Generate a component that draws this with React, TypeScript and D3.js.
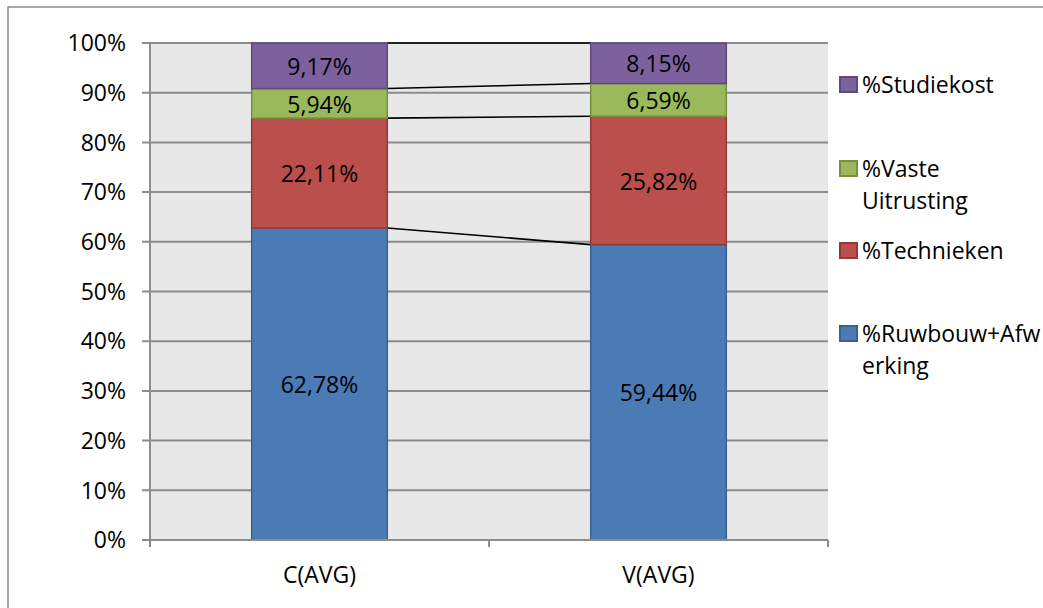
import React from "react";
import * as d3 from "d3";

// Stacked 100% columns: cost share per group
const categories = ["C(AVG)", "V(AVG)"];
const seriesNames = ["%Ruwbouw+Afwerking", "%Technieken", "%Vaste Uitrusting", "%Studiekost"];
const ruwbouw = [62.78, 59.44];
const technieken = [22.11, 25.82];
const vasteUitrusting = [5.94, 6.59];
const studiekost = [9.17, 8.15];
const yTicks = [0, 10, 20, 30, 40, 50, 60, 70, 80, 90, 100];

// legend entries, wrapped the way they are shown
const legendLines = [
  ["%Studiekost"],
  ["%Vaste", "Uitrusting"],
  ["%Technieken"],
  ["%Ruwbouw+Afw", "erking"],
];

const fills = ["#4a7bb5", "#ba4f4c", "#99b95a", "#7c619e"];
const strokes = ["#3b6190", "#8e3b39", "#76903f", "#5e4979"];

const W = 1043;
const H = 608;
const FONT = "'Open Sans', sans-serif";
const FS = 23;

export default function App() {
  const plot = { left: 150, right: 828, top: 43, bottom: 540 };
  const band = d3.scaleBand<string>().domain(categories).range([plot.left, plot.right]);
  const y = d3.scaleLinear().domain([0, 100]).range([plot.bottom, plot.top]);

  const rows = categories.map((c, i) => ({
    cat: c,
    s0: ruwbouw[i],
    s1: technieken[i],
    s2: vasteUitrusting[i],
    s3: studiekost[i],
  }));
  const stack = d3.stack<any>().keys(["s0", "s1", "s2", "s3"]);
  const layers = stack(rows);

  // gap width 150% of the column width
  const barW = band.bandwidth() / 2.5;
  const barX = (c: string) => band(c)! + band.bandwidth() / 2 - barW / 2;

  const legendRows = [
    { idx: 3, base: 93 },
    { idx: 2, base: 177 },
    { idx: 1, base: 259 },
    { idx: 0, base: 342 },
  ];

  return (
    <svg
      width={W}
      height={H}
      style={{ position: "absolute", left: 0, top: 0, background: "#fff" }}
      fontFamily={FONT}
    >
      {/* chart frame */}
      <rect x={8} y={7} width={W + 20} height={H + 20} fill="#fff" stroke="#8a8a8a" strokeWidth={1.5} />

      {/* plot area */}
      <rect x={plot.left} y={plot.top} width={plot.right - plot.left} height={plot.bottom - plot.top} fill="#e8e8e8" />

      {/* gridlines and y ticks */}
      {yTicks.map((t) => (
        <g key={t}>
          <line x1={plot.left - 8} x2={plot.right} y1={y(t)} y2={y(t)} stroke="#8c8c8c" strokeWidth={2} />
          <text x={126} y={y(t)} dy="0.36em" textAnchor="end" fontSize={FS} fill="#000">
            {t}%
          </text>
        </g>
      ))}

      {/* axes */}
      <line x1={plot.left} x2={plot.left} y1={plot.top} y2={plot.bottom} stroke="#8c8c8c" strokeWidth={2} />
      {[plot.left, ...categories.map((c) => band(c)! + band.bandwidth())].map((px, i) => (
        <line key={i} x1={px} x2={px} y1={plot.bottom} y2={plot.bottom + 7} stroke="#8c8c8c" strokeWidth={2} />
      ))}

      {/* series lines between columns */}
      {layers.map((layer, li) => {
        const a = layer[0];
        const b = layer[1];
        return (
          <line
            key={"sl" + li}
            x1={barX(categories[0]) + barW}
            x2={barX(categories[1])}
            y1={y(a[1])}
            y2={y(b[1])}
            stroke="#000"
            strokeWidth={1.6}
          />
        );
      })}

      {/* stacked columns */}
      {layers.map((layer, li) =>
        layer.map((d, ci) => {
          const cat = categories[ci];
          const y0 = y(d[0]);
          const y1 = y(d[1]);
          return (
            <g key={li + "-" + ci}>
              <rect
                x={barX(cat)}
                y={y1}
                width={barW}
                height={y0 - y1}
                fill={fills[li]}
                stroke={strokes[li]}
                strokeWidth={1.5}
              />
              <text
                x={barX(cat) + barW / 2}
                y={(y0 + y1) / 2}
                dy="0.4em"
                textAnchor="middle"
                fontSize={FS}
                fill="#000"
              >
                {(d[1] - d[0]).toFixed(2).replace(".", ",")}%
              </text>
            </g>
          );
        })
      )}

      {/* x axis line over the column bases */}
      <line x1={plot.left} x2={plot.right} y1={plot.bottom} y2={plot.bottom} stroke="#8c8c8c" strokeWidth={2} />

      {/* category labels */}
      {categories.map((c) => (
        <text key={c} x={band(c)! + band.bandwidth() / 2} y={583} textAnchor="middle" fontSize={FS} fill="#000">
          {c}
        </text>
      ))}

      {/* legend */}
      {legendRows.map(({ idx, base }) => (
        <g key={idx}>
          <rect x={840} y={base - 16} width={17} height={15} fill={fills[idx]} stroke={strokes[idx]} strokeWidth={2} />
          {legendLines[3 - idx].map((ln, k) => (
            <text key={k} x={862} y={base + k * 32} fontSize={FS} fill="#000">
              {ln}
            </text>
          ))}
        </g>
      ))}
    </svg>
  );
}
